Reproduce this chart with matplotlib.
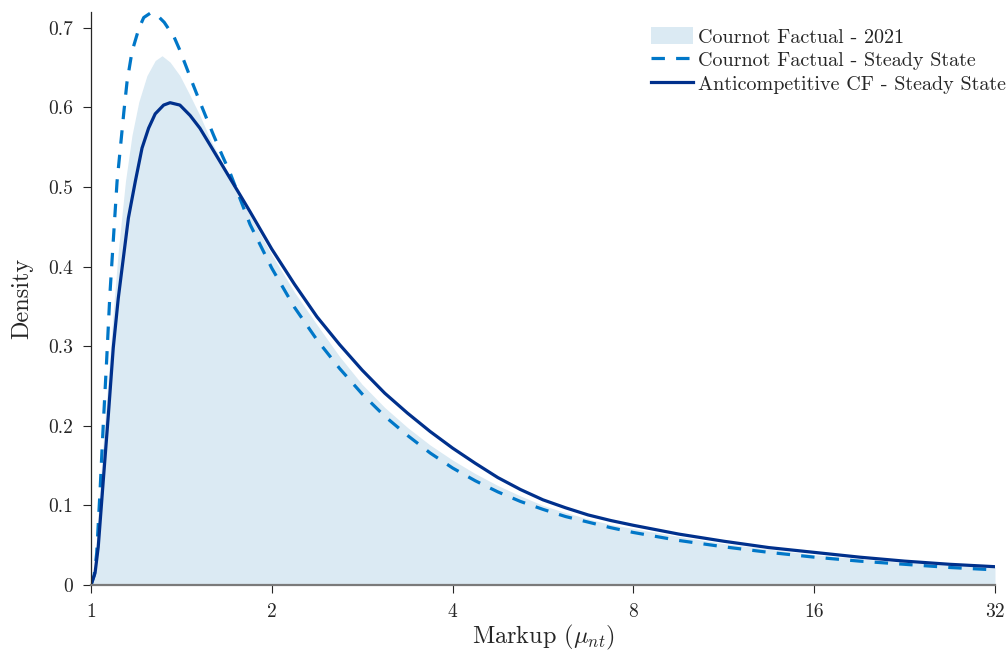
import matplotlib
matplotlib.use("Agg")
import matplotlib.pyplot as plt

plt.rcParams['font.family'] = 'serif'
plt.rcParams['font.serif'] = ['cmr10']
plt.rcParams['mathtext.fontset'] = 'cm'
plt.rcParams['axes.formatter.use_mathtext'] = True

# Cournot Factual - 2021 (filled density)
fill_x = [1.0, 1.014, 1.028, 1.048, 1.069, 1.089, 1.110, 1.141, 1.170, 1.201, 1.239,
          1.279, 1.313, 1.354, 1.406, 1.462, 1.518, 1.578, 1.640, 1.704, 1.771,
          1.840, 2.0, 2.181, 2.378, 2.594, 2.828, 3.084, 3.364, 3.668, 4.0, 4.362,
          4.757, 5.187, 5.657, 6.169, 6.727, 7.336, 8.0, 9.514, 11.31, 13.45, 16.0,
          19.03, 22.63, 26.91, 32.0]
fill_y = [0.0, 0.025, 0.094, 0.181, 0.263, 0.344, 0.419, 0.507, 0.565, 0.607, 0.640,
          0.659, 0.665, 0.657, 0.640, 0.615, 0.590, 0.561, 0.536, 0.511, 0.487,
          0.464, 0.415, 0.368, 0.327, 0.287, 0.252, 0.223, 0.198, 0.176, 0.157, 0.140,
          0.125, 0.112, 0.100, 0.091, 0.083, 0.076, 0.071, 0.061, 0.052, 0.045, 0.038,
          0.033, 0.028, 0.025, 0.022]

# Cournot Factual - Steady State (dashed)
dash_x = [1.0, 1.012, 1.022, 1.0355, 1.048, 1.062, 1.075, 1.090, 1.105, 1.119, 1.134,
          1.148, 1.170, 1.201, 1.224, 1.255, 1.286, 1.324, 1.376, 1.402, 1.434,
          1.480, 1.518, 1.558, 1.600, 1.653, 1.706, 1.761, 1.840, 2.0, 2.181, 2.378,
          2.594, 2.828, 3.084, 3.364, 3.668, 4.0, 4.362, 4.757, 5.187, 5.657, 6.169,
          6.727, 7.336, 8.0, 9.514, 11.31, 13.45, 16.0, 19.03, 22.63, 26.91, 32.0]
dash_y = [0.0, 0.012, 0.040, 0.120, 0.201, 0.284, 0.365, 0.437, 0.507, 0.549, 0.594,
          0.632, 0.670, 0.699, 0.713, 0.7185, 0.7165, 0.707, 0.688, 0.674, 0.655,
          0.628, 0.607, 0.586, 0.565, 0.540, 0.517, 0.490, 0.453, 0.398, 0.349, 0.308,
          0.272, 0.240, 0.212, 0.188, 0.166, 0.147, 0.131, 0.117, 0.105, 0.095, 0.086,
          0.079, 0.072, 0.066, 0.056, 0.048, 0.041, 0.035, 0.030, 0.026, 0.022, 0.019]

# Anticompetitive CF - Steady State (solid)
solid_x = [1.0, 1.0155, 1.028, 1.048, 1.069, 1.089, 1.110, 1.154, 1.185, 1.216, 1.247,
           1.279, 1.321, 1.354, 1.406, 1.462, 1.518, 1.578, 1.640, 1.704, 1.771,
           1.840, 2.0, 2.181, 2.378, 2.594, 2.828, 3.084, 3.364, 3.668, 4.0, 4.362,
           4.757, 5.187, 5.657, 6.169, 6.727, 7.336, 8.0, 9.514, 11.31, 13.45, 16.0,
           19.03, 22.63, 26.91, 32.0]
solid_y = [0.0, 0.015, 0.0476, 0.131, 0.215, 0.298, 0.360, 0.461, 0.507, 0.549, 0.574,
           0.592, 0.603, 0.606, 0.603, 0.590, 0.574, 0.553, 0.532, 0.511, 0.490,
           0.469, 0.422, 0.378, 0.337, 0.302, 0.270, 0.241, 0.216, 0.193, 0.172, 0.153,
           0.135, 0.120, 0.107, 0.097, 0.088, 0.081, 0.075, 0.064, 0.055, 0.047, 0.041,
           0.035, 0.030, 0.026, 0.023]

xticks = [1, 2, 4, 8, 16, 32]
yticks = [0, 0.1, 0.2, 0.3, 0.4, 0.5, 0.6, 0.7]

fig = plt.figure(figsize=(10.08, 6.54), dpi=100)
ax = fig.add_axes([0.0903, 0.1055, 0.8968, 0.8762])

ax.fill_between(fill_x, fill_y, 0, color='#dbeaf3', linewidth=0, label='Cournot Factual - 2021')
ax.plot(dash_x, dash_y, color='#0077c8', lw=2.3, linestyle=(0, (4.2, 3.5)),
        label='Cournot Factual - Steady State')
ax.plot(solid_x, solid_y, color='#00308c', lw=2.3, solid_joinstyle='round',
        label='Anticompetitive CF - Steady State')

ax.set_xscale('log', base=2)
ax.set_xlim(1, 32)
ax.set_ylim(0, 0.72)
ax.set_xticks(xticks)
ax.set_xticklabels([str(t) for t in xticks])
ax.minorticks_off()
ax.set_yticks(yticks)
ax.set_yticklabels(['0'] + [f'{t:.1f}' for t in yticks[1:]])

ax.spines['top'].set_visible(False)
ax.spines['right'].set_visible(False)
ax.spines['left'].set_color('#262626')
ax.spines['left'].set_linewidth(0.9)
ax.spines['bottom'].set_color('#7a7a7a')
ax.spines['bottom'].set_linewidth(1.6)
ax.tick_params(direction='out', length=5.8, width=0.8, colors='#262626',
               labelsize=14)
ax.tick_params(axis='y', pad=7)
ax.tick_params(axis='x', pad=7)

ax.set_xlabel(r'Markup ($\mu_{nt}$)', fontsize=17.5, color='#262626', labelpad=1.5)
ax.set_ylabel('Density', fontsize=17.5, color='#262626', labelpad=11)

leg = ax.legend(loc='upper left', bbox_to_anchor=(651 / 1008, 1 - 27 / 654),
                bbox_transform=fig.transFigure, frameon=False, fontsize=14.5,
                handlelength=2.1, handleheight=0.95, handletextpad=0.25,
                labelspacing=0.2, borderaxespad=0, borderpad=0)
for t in leg.get_texts():
    t.set_color('#262626')

fig.savefig('out.png', dpi=100)
